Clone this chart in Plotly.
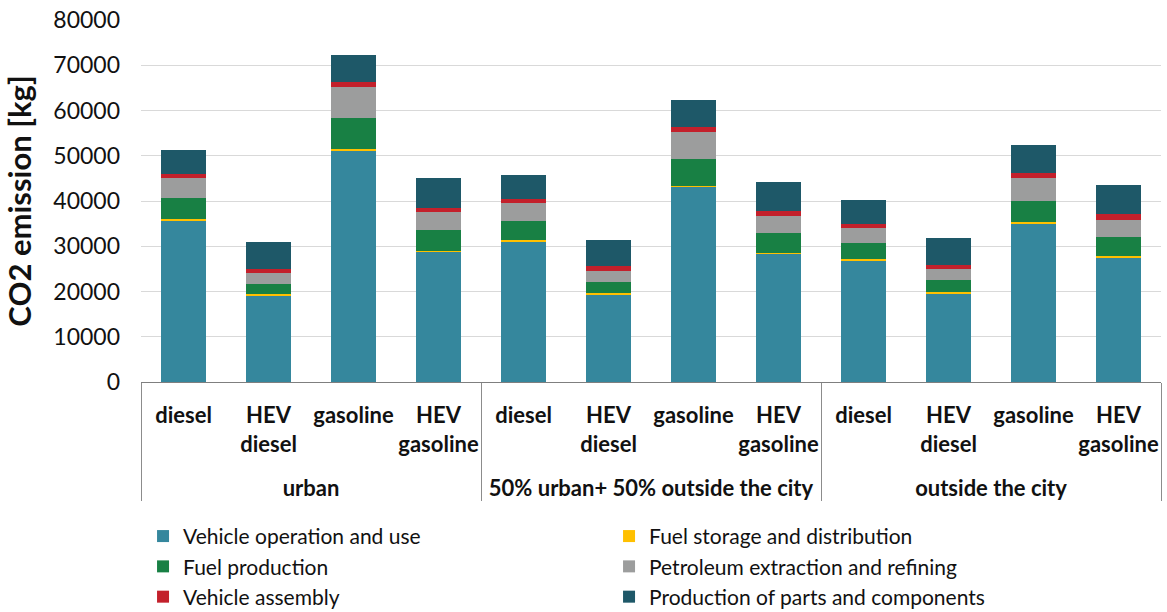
import plotly.graph_objects as go

scenarios = ["<br>urban"] * 4 + ["<br>50% urban+ 50% outside the city"] * 4 + ["<br>outside the city"] * 4
vehicles = ["diesel", "HEV<br>diesel", "gasoline", "HEV<br>gasoline"] * 3

operation = [35700, 19100, 51200, 28800, 31150, 19400, 43100, 28300, 26950, 19600, 35000, 27550]
storage = [250, 250, 350, 250, 250, 200, 300, 250, 250, 250, 350, 250]
fuel_production = [4650, 2400, 6700, 4450, 4150, 2550, 5800, 4400, 3450, 2700, 4750, 4350]
petroleum = [4400, 2300, 7000, 4000, 3900, 2300, 6000, 3700, 3400, 2350, 4950, 3750]
assembly = [900, 1000, 1100, 1000, 1000, 1100, 1100, 1150, 950, 1050, 1100, 1200]
parts = [5300, 5800, 6000, 6500, 5400, 5800, 6000, 6500, 5300, 5950, 6200, 6400]

series = [
    ("Vehicle operation and use", operation, "#35879D"),
    ("Fuel storage and distribution", storage, "#FFC000"),
    ("Fuel production", fuel_production, "#188044"),
    ("Petroleum extraction and refining", petroleum, "#9C9D9D"),
    ("Vehicle assembly", assembly, "#C3202B"),
    ("Production of parts and components", parts, "#1E5868"),
]

y_ticks = [0, 10000, 20000, 30000, 40000, 50000, 60000, 70000, 80000]

FONT = "Lato, 'Open Sans', sans-serif"

fig = go.Figure()
for name, vals, color in series:
    fig.add_trace(go.Bar(
        x=[scenarios, vehicles], y=vals, name=name,
        marker=dict(color=color, line=dict(width=0)),
    ))

fig.update_layout(
    template="none",
    barmode="stack",
    bargap=0.46,
    width=1167, height=612,
    margin=dict(l=141, r=6, t=20, b=230, autoexpand=False),
    plot_bgcolor="white", paper_bgcolor="white",
    font=dict(family=FONT, color="#111111", size=22),
    legend=dict(
        orientation="h", x=0.002, xanchor="left",
        yref="container", y=0.157, yanchor="top",
        entrywidth=421, entrywidthmode="pixels",
        font=dict(family=FONT, size=21, color="#111111"),
        traceorder="normal", itemsizing="constant",
        bgcolor="rgba(0,0,0,0)",
    ),
    xaxis=dict(
        type="multicategory",
        showline=True, linecolor="#7F7F7F", linewidth=1,
        showgrid=False, zeroline=False, tickangle=0,
        ticks="", showdividers=True, dividercolor="#8C8C8C", dividerwidth=1,
        ticklabelstandoff=14,
        tickfont=dict(family=FONT, size=22, color="#111111", weight="bold"),
    ),
    yaxis=dict(
        range=[0, 80000], tickvals=y_ticks,
        ticktext=[str(v) for v in y_ticks],
        showgrid=True, gridcolor="#D9D9D9", gridwidth=1,
        zeroline=False, showline=False, ticks="",
        tickfont=dict(family=FONT, size=23, color="#111111"),
        ticklabelstandoff=20,
        title=dict(text="CO2 emission [kg]", font=dict(family=FONT, size=31, color="#111111", weight="bold"), standoff=17),
    ),
)

fig.write_html("out.html", config={"displayModeBar": False},
               post_script="document.body.style.margin='0px';")
